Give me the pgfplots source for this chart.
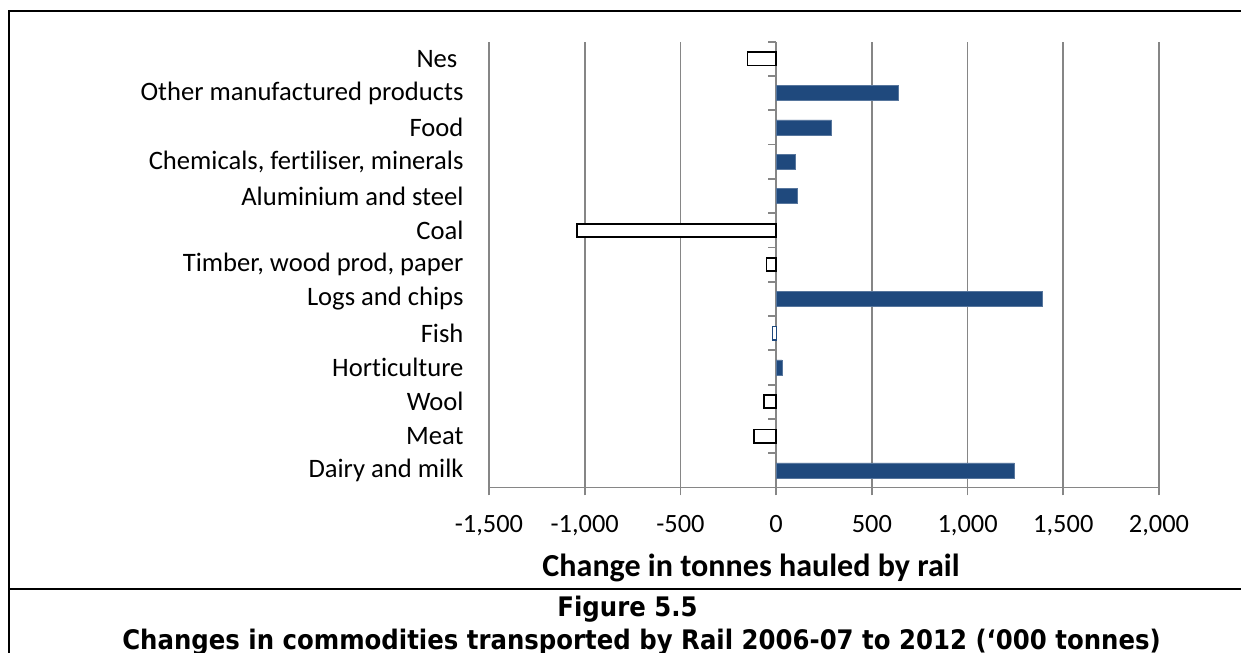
\documentclass[border=0pt]{standalone}
\usepackage{fontspec}
\setmainfont{Carlito}[Ligatures=NoCommon]
\newfontfamily\capfont[FakeStretch=0.907]{DejaVu Sans}
\usepackage{pgfplots}
\pgfplotsset{compat=1.18}
\definecolor{barblue}{RGB}{31,73,125}
\definecolor{gridgray}{RGB}{134,134,134}

\begin{document}
\begin{tikzpicture}[x=1bp,y=1bp]
\useasboundingbox (0,0) rectangle (1241,653);
\draw[line width=2bp] (1260,641.5) -- (9,641.5) -- (9,-20);
\draw[line width=2bp] (9,64) -- (1260,64);
\begin{axis}[
  at={(489bp,165.5bp)}, anchor=south west,
  scale only axis, width=670bp, height=445.8bp,
  xmin=-1500, xmax=2000, ymin=-0.5, ymax=12.5,
  xbar, bar width=15bp, bar shift=0pt,
  xtick={-1500,-1000,-500,0,500,1000,1500,2000},
  ytick={0,1,2,3,4,5,6,7,8,9,10,11,12},
  yticklabels={Dairy and milk, Meat, Wool, Horticulture, Fish, Logs and chips,
    {Timber, wood prod, paper}, Coal, Aluminium and steel,
    {Chemicals, fertiliser, minerals}, Food, Other manufactured products, Nes\kern0.23em},
  xmajorgrids, grid style={gridgray, line width=1.8bp},
  axis x line=bottom, axis y line=left,
  x axis line style={-, gridgray, line width=1.8bp},
  y axis line style={draw=none},
  xtick style={gridgray, line width=1.8bp},
  ytick style={draw=none},
  tick align=outside, major tick length=8bp,
  /pgf/number format/.cd, 1000 sep={,}, assume math mode=true,
  /pgfplots/.cd,
  xticklabel style={font=\fontsize{26.5}{30}\selectfont, yshift=-16bp},
  yticklabel style={font=\fontsize{26.7}{30}\selectfont, xshift=-14bp},
  clip=false,
]
\addplot[fill=barblue, draw=barblue!75!white, line width=0.5bp]
  coordinates {(1245,0) (30,3) (1390,5) (110,8) (100,9) (290,10) (640,11)};
\addplot[fill=white, draw=black, line width=1.8bp, bar width=13.2bp]
  coordinates {(-115,1) (-65,2) (-50,6) (-1040,7) (-150,12)};
\addplot[fill=white, draw=barblue, line width=1.2bp, bar width=13.8bp]
  coordinates {(-18,4)};
\pgfplotsinvokeforeach{-0.5,0.5,1.5,2.5,3.5,4.5,5.5,6.5,7.5,8.5,9.5,10.5,11.5,12.5}{
  \draw[gridgray, line width=1.8bp] (axis cs:0,#1) -- ++(-8bp,0bp);
}
\end{axis}
\node[anchor=base, font=\fontsize{32.2}{36}\bfseries\selectfont] at (751,76) {Change in tonnes hauled by rail};
\node[anchor=base, font=\capfont\bfseries\fontsize{27}{32}\selectfont] at (627.5,36) {Figure 5.5};
\node[anchor=base, font=\capfont\bfseries\fontsize{27}{32}\selectfont] at (641.5,3) {Changes in commodities transported by Rail 2006-07 to 2012 (‘000 tonnes)};
\end{tikzpicture}
\end{document}
